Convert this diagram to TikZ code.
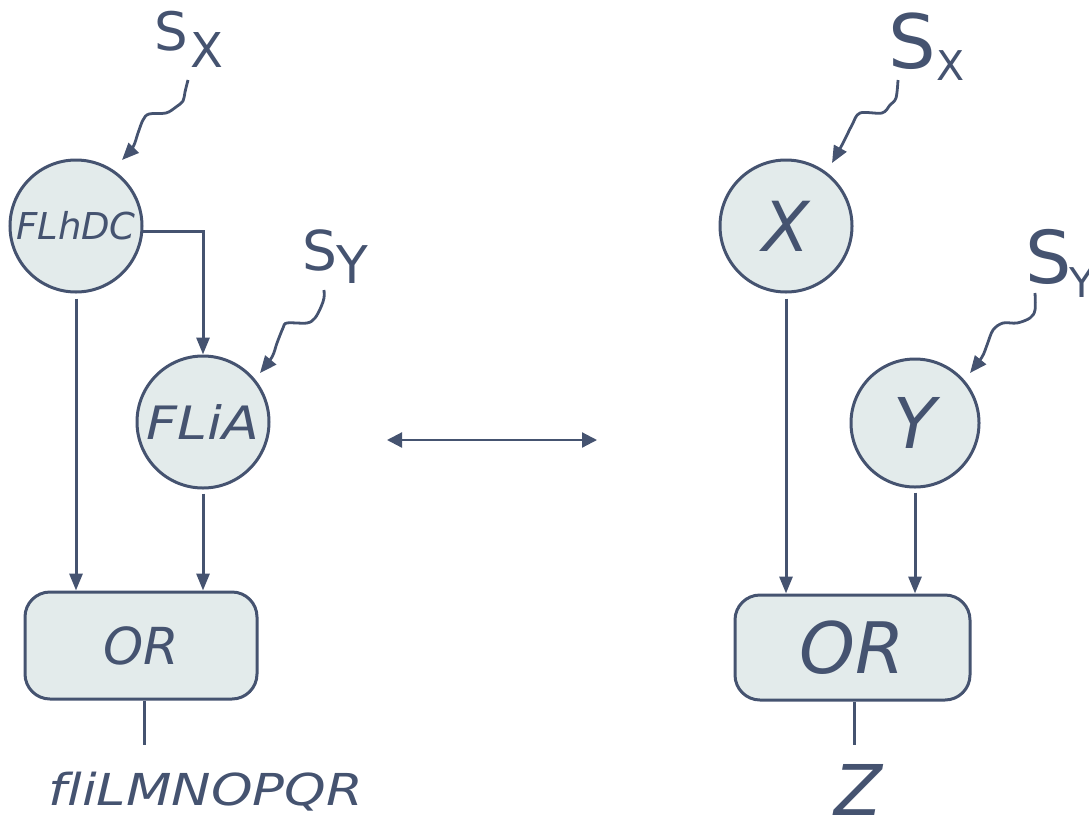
\documentclass[tikz,border=0pt]{standalone}
\usepackage{fontspec}
\setmainfont{DejaVu Sans}
\usepackage{graphicx}
\usetikzlibrary{arrows.meta}
\definecolor{ink}{RGB}{69,83,112}
\definecolor{paper}{RGB}{227,235,235}
\newcommand\myfs[1]{\fontsize{#1}{#1}\selectfont}
\tikzset{
  circ/.style={circle, draw=ink, fill=paper, line width=3pt, minimum size=132pt, inner sep=0pt, text=ink},
  gate/.style={rectangle, rounded corners=25pt, draw=ink, fill=paper, line width=3pt, inner sep=0pt, text=ink},
  conn/.style={draw=ink, line width=3pt, -{Triangle[length=17pt,width=13pt]}},
  wire/.style={draw=ink, line width=3pt},
  wavy/.style={draw=ink, line width=2.8pt, -{Triangle[length=17pt,width=14pt]}},
  lbl/.style={text=ink, inner sep=0pt, anchor=base west},
  dbl/.style={draw=ink, line width=2.2pt, {Triangle[length=15pt,width=15pt]}-{Triangle[length=15pt,width=15pt]}},
}
\begin{document}
\begin{tikzpicture}[x=1pt,y=-1pt]
\useasboundingbox (0,0) rectangle (1089,817);
% circles
\node[circ, font=\itshape\myfs{37}] (FLhDC) at (76,226) {FLhDC};
\node[circ, font=\itshape\myfs{46}] (FLiA) at (203,422) {\scalebox{1.17}[1]{FLiA}};
\node[circ, font=\itshape\myfs{69}] (X) at (786,226) {X};
\node[circ, minimum size=128pt, font=\itshape\myfs{70}] (Y) at (915,423) {Y};
% gates
\node[gate, minimum width=232pt, minimum height=107pt, font=\itshape\myfs{51}] (ORl) at (141,645.5) {OR};
\node[gate, minimum width=235pt, minimum height=105pt, font=\itshape\myfs{71}] (ORr) at (852.5,647.5) {OR};
% outputs
\node[lbl, anchor=base, font=\itshape\myfs{44}] (outl) at (206,805) {\scalebox{1.2}[1]{f\kern0pt li\kern0pt LMNOPQR}};
\node[lbl, anchor=base, font=\itshape\myfs{70}] (Z) at (858,815) {Z};
% source labels
\node[lbl, font=\myfs{53}] (SxL) at (154,50) {S};
\node[lbl, font=\myfs{48}] (SxLs) at (190,67) {X};
\node[lbl, font=\myfs{55}] (SyL) at (302,270) {S};
\node[lbl, font=\myfs{52}] (SyLs) at (336,283) {Y};
\node[lbl, font=\myfs{75}] (SxR) at (888,68) {S};
\node[lbl, font=\myfs{41}] (SxRs) at (936,80) {X};
\node[lbl, font=\myfs{73}] (SyR) at (1025,283) {S};
\node[lbl, font=\myfs{41}] (SyRs) at (1069,297) {Y};
% wavy arrows
\draw[wavy] plot[smooth, tension=0.55] coordinates {(188,80) (185,92) (183,101) (176,107) (166,113) (149,114) (143,120) (138,133) (133,147) (122,160)};
\draw[wavy] plot[smooth, tension=0.55] coordinates {(324,290) (324,298) (321,307) (315,318) (307,323) (287,323) (283,328) (277,343) (272,357) (260,373)};
\draw[wavy] plot[smooth, tension=0.55] coordinates {(898,80) (896,98) (890,105) (882,113) (860,113) (852,125) (843,143) (832,163)};
\draw[wavy] plot[smooth, tension=0.55] coordinates {(1035,293) (1035,310) (1030,318) (1017,323) (1003,323) (993,330) (987,345) (982,357) (970,373)};
% connectors
\draw[conn, shorten <=5pt] (FLhDC.south) -- (FLhDC.south |- ORl.north);
\draw[conn, shorten <=4pt] (FLiA.south) -- (FLiA.south |- ORl.north);
\draw[conn] (FLhDC.-5) -| (FLiA.north);
\draw[conn, shorten <=5pt] (X.south) -- (X.south |- ORr.north);
\draw[conn, shorten <=4pt] (Y.south) -- (Y.south |- ORr.north);
\coordinate (oL) at (144,745);
\draw[wire] (ORl.south -| oL) -- (oL);
\coordinate (oR) at (854,745);
\draw[wire] (ORr.south -| oR) -- (oR);
% equivalence arrow
\coordinate (la) at (387,440);
\coordinate (ra) at (597,440);
\draw[dbl] (la) -- (ra);
\end{tikzpicture}
\end{document}
